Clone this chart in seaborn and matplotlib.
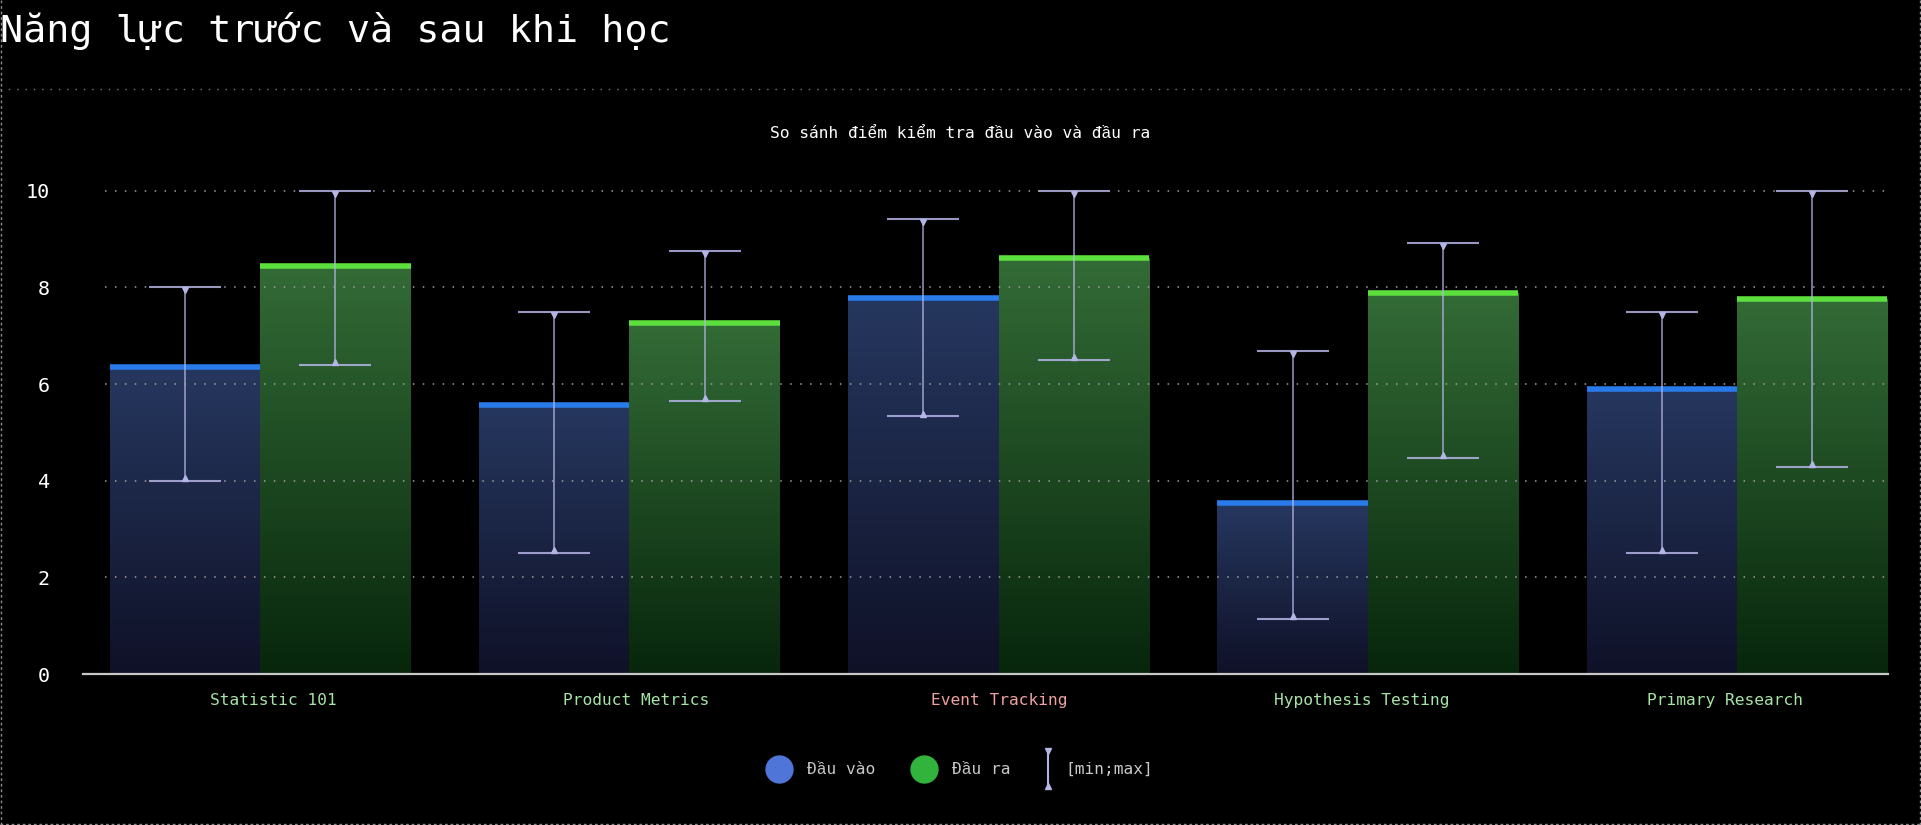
import numpy as np
import pandas as pd
import matplotlib
matplotlib.use("Agg")
import matplotlib.pyplot as plt
import seaborn as sns
from matplotlib.colors import LinearSegmentedColormap
from matplotlib.lines import Line2D
from matplotlib.legend_handler import HandlerBase

# ---------------- data ----------------
courses = ["Statistic 101", "Product Metrics", "Event Tracking", "Hypothesis Testing", "Primary Research"]
series_names = ["Đầu vào", "Đầu ra"]
pre_mean = [6.35, 5.56, 7.79, 3.53, 5.89]
pre_min = [4.0, 2.5, 5.33, 1.14, 2.5]
pre_max = [8.0, 7.5, 9.42, 6.68, 7.5]
post_mean = [8.45, 7.26, 8.6, 7.89, 7.77]
post_min = [6.4, 5.66, 6.5, 4.47, 4.29]
post_max = [10.0, 8.76, 10.0, 8.91, 10.0]
label_colors = ["#a6e3a6", "#a6e3a6", "#f0a0a0", "#a6e3a6", "#a6e3a6"]
yticks = [0, 2, 4, 6, 8, 10]

title = "Năng lực trước và sau khi học"
subtitle = "So sánh điểm kiểm tra đầu vào và đầu ra"
range_label = "[min;max]"

# ---------------- style ----------------
sns.set_theme(style="dark")
FONT = ["DejaVu Sans Mono", "Liberation Mono", "DejaVu Sans"]
plt.rcParams["font.family"] = FONT
BG = "#000000"
ERR = "#b4b4e6"

df = pd.DataFrame({
    "course": courses * 2,
    "series": [series_names[0]] * 5 + [series_names[1]] * 5,
    "score": pre_mean + post_mean,
})

fig = plt.figure(figsize=(19.21, 8.25), dpi=100, facecolor=BG)
ax = fig.add_axes([0.0432, 0.183, 0.9398, 0.615])
ax.set_facecolor(BG)

sns.barplot(data=df, x="course", y="score", hue="series", order=courses,
            hue_order=series_names, palette=["#26375f", "#336b36"],
            errorbar=None, width=0.815, gap=0, ax=ax, legend=False,
            linewidth=0, saturation=1)

grads = {
    0: LinearSegmentedColormap.from_list("b", ["#0f1127", "#26375f"]),
    1: LinearSegmentedColormap.from_list("g", ["#07260c", "#336b36"]),
}
edge_cols = {0: "#2a7bea", 1: "#5de03e"}
grad_img = np.linspace(0, 1, 256).reshape(-1, 1)

bars = list(ax.patches)
nser = len(series_names)
ncat = len(courses)
lows = [pre_min, post_min]
highs = [pre_max, post_max]
for si in range(nser):
    for ci in range(ncat):
        p = bars[si * ncat + ci]
        x0, w = p.get_x(), p.get_width()
        h = p.get_height()
        p.set_facecolor("none")
        im = ax.imshow(grad_img, cmap=grads[si], origin="lower", aspect="auto",
                       extent=[x0, x0 + w, 0, h], zorder=1, interpolation="bicubic")
        im.set_clip_path(p)
        ax.plot([x0, x0 + w], [h, h], color=edge_cols[si], lw=4, zorder=2,
                solid_capstyle="butt")
        xc = x0 + w / 2
        lo, hi = lows[si][ci], highs[si][ci]
        ax.errorbar([xc], [h], yerr=[[h - lo], [hi - h]], fmt="none",
                    ecolor=ERR, elinewidth=1.1, capsize=26, capthick=1.5,
                    zorder=2.5, alpha=0.85)
        ax.plot([xc], [hi - 0.06], marker="v", ms=5, color=ERR, zorder=5, lw=0)
        ax.plot([xc], [lo + 0.06], marker="^", ms=5, color=ERR, zorder=5, lw=0)

ax.set_xlim(-0.48, 4.41)
ax.set_ylim(0, 10.5)
ax.set_yticks(yticks)
ax.set_yticklabels([str(t) for t in yticks], color="white", fontsize=14.5)
ax.tick_params(axis="y", length=0, pad=24)
ax.tick_params(axis="x", length=0, pad=14)
ax.set_xticks([0.035 + i * 0.9833 for i in range(ncat)])
ax.set_xticklabels(courses, fontsize=11.7)
for lbl, c in zip(ax.get_xticklabels(), label_colors):
    lbl.set_color(c)
ax.set_xlabel("")
ax.set_ylabel("")
ax.grid(False)
for yv in yticks[1:]:
    ax.axhline(yv, xmin=0.012, xmax=1.0, color="#a0a0a0", lw=1.1,
               ls=(0, (1, 5.5)), zorder=3)
for s in ["top", "right", "left"]:
    ax.spines[s].set_visible(False)
ax.spines["bottom"].set_color("#c8c8c8")
ax.spines["bottom"].set_linewidth(1.6)
ax.spines["bottom"].set_zorder(6)

# titles & separator
fig.text(0.0, 0.963, title, color="white", fontsize=27.7, ha="left", va="center",
         family=FONT)
fig.text(0.5, 0.838, subtitle, color="white", fontsize=11.7, ha="center",
         va="center", family=FONT)
fig.add_artist(Line2D([0.0, 0.996], [0.892, 0.892], transform=fig.transFigure,
                      color="#777777", lw=1.0, ls=(0, (1, 5))))
# dotted frame (left, right, bottom)
for xs, ys in [([0.0006, 0.0006], [0.0, 1.0]), ([0.9994, 0.9994], [0.0, 1.0]),
               ([0.0, 1.0], [0.0012, 0.0012])]:
    fig.add_artist(Line2D(xs, ys, transform=fig.transFigure, color="#8a8a8a",
                          lw=1.0, ls=(0, (2, 2))))


# legend
class ErrHandler(HandlerBase):
    def create_artists(self, legend, orig, xd, yd, w, h, fs, trans):
        xc = xd + w / 2
        top, bot = yd + h * 2.0, yd - h * 1.0
        ln = Line2D([xc, xc], [bot, top], color=ERR, lw=1.5, transform=trans)
        m1 = Line2D([xc], [top], marker="v", ms=5, color=ERR, transform=trans, lw=0)
        m2 = Line2D([xc], [bot], marker="^", ms=5, color=ERR, transform=trans, lw=0)
        return [ln, m1, m2]


h_pre = Line2D([], [], marker="o", ms=19.4, lw=0, color="#5075d8")
h_post = Line2D([], [], marker="o", ms=19.4, lw=0, color="#32b43c")
h_err = Line2D([], [])
leg1 = fig.legend([h_pre, h_post], series_names,
                  loc="center", bbox_to_anchor=(0.4624, 0.067), ncol=2, frameon=False,
                  prop={"family": FONT, "size": 11.7},
                  columnspacing=2.2, handletextpad=0.9, handlelength=1.6)
leg2 = fig.legend([h_err], [range_label], loc="center left",
                  bbox_to_anchor=(0.5338, 0.067), frameon=False,
                  handler_map={h_err: ErrHandler()}, prop={"family": FONT, "size": 11.7},
                  handletextpad=0.56, handlelength=1.0)
for lg in (leg1, leg2):
    for t in lg.get_texts():
        t.set_color("#c8c8c8")

fig.savefig("out.png", dpi=100, facecolor=BG)
